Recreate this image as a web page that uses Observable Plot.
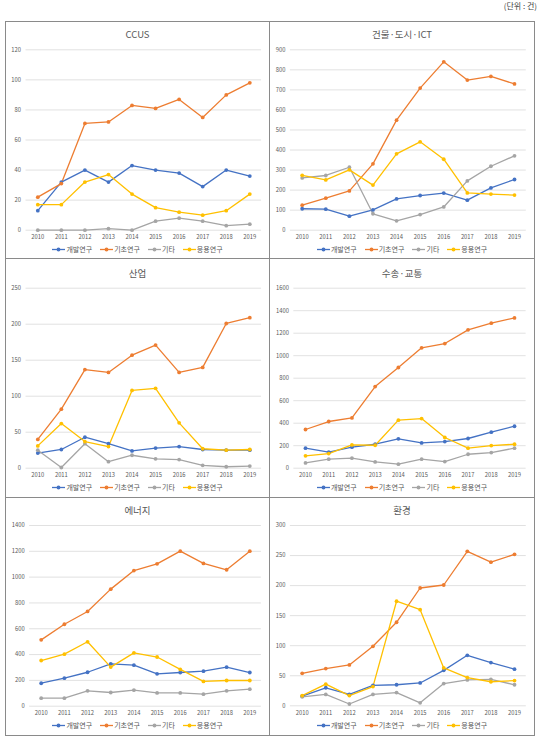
<!DOCTYPE html>
<html><head><meta charset="utf-8">
<script src="https://cdn.jsdelivr.net/npm/d3@7"></script>
<script src="https://cdn.jsdelivr.net/npm/@observablehq/plot@0.6"></script>
<style>
body{margin:0;background:#fff;font-family:"Noto Sans CJK KR","Noto Sans",sans-serif;}
#root{position:relative;width:543px;height:743px;overflow:hidden;background:#fff}
.panel{position:absolute;box-sizing:border-box;border:1px solid #8a8a8a;background:#fff}
.panel svg{position:absolute;left:0;top:0;overflow:visible}
.title{position:absolute;left:0;right:0;text-align:center;font-size:9.5px;color:#595959;line-height:1;white-space:nowrap}
.legend{position:absolute;left:0;right:0;display:flex;justify-content:center;gap:8px;font-size:7px;color:#595959;align-items:center;line-height:1}
.legend span.item{display:flex;align-items:center;gap:1px}
.unit{position:absolute;right:6px;top:2px;font-size:8px;color:#404040;line-height:1}
</style></head>
<body><div id="root"><div class="unit">(단위 : 건)</div></div>
<script>
const years = [2010, 2011, 2012, 2013, 2014, 2015, 2016, 2017, 2018, 2019];
const seriesNames = ["개발연구", "기초연구", "기타", "응용연구"];
const seriesColors = ["#4472C4", "#ED7D31", "#A5A5A5", "#FFC000"];
const panelTitles = ["CCUS", "건물·도시·ICT", "산업", "수송·교통", "에너지", "환경"];
const yMaxima = [120, 900, 250, 1600, 1400, 300];
const yStepSizes = [20, 100, 50, 200, 200, 50];

// CCUS
const ccusDev = [13, 32, 40, 32, 43, 40, 38, 29, 40, 36];
const ccusBasic = [22, 31, 71, 72, 83, 81, 87, 75, 90, 98];
const ccusOther = [0, 0, 0, 1, 0, 6, 8, 6, 3, 4];
const ccusApplied = [17, 17, 32, 37, 24, 15, 12, 10, 13, 24];
// 건물·도시·ICT
const bldgDev = [107, 105, 70, 101, 156, 173, 185, 150, 211, 253];
const bldgBasic = [125, 160, 196, 331, 549, 709, 840, 749, 767, 730];
const bldgOther = [261, 273, 314, 82, 47, 78, 116, 246, 319, 371];
const bldgApplied = [274, 251, 301, 225, 381, 441, 354, 186, 180, 175];
// 산업
const indDev = [21, 26, 43, 34, 24, 28, 30, 26, 25, 25];
const indBasic = [40, 82, 137, 133, 157, 171, 133, 140, 201, 209];
const indOther = [25, 1, 34, 9, 18, 13, 12, 4, 2, 3];
const indApplied = [31, 62, 37, 30, 108, 111, 63, 27, 25, 26];
// 수송·교통
const trDev = [178, 142, 187, 213, 261, 225, 237, 264, 320, 373];
const trBasic = [344, 415, 447, 726, 895, 1070, 1108, 1230, 1289, 1336];
const trOther = [47, 80, 89, 56, 36, 80, 59, 124, 139, 178];
const trApplied = [110, 130, 207, 204, 427, 441, 273, 178, 201, 213];
// 에너지
const enDev = [178, 217, 263, 328, 318, 251, 261, 271, 302, 261];
const enBasic = [514, 635, 734, 907, 1051, 1103, 1201, 1106, 1057, 1201];
const enOther = [62, 62, 119, 106, 124, 103, 103, 93, 119, 132];
const enApplied = [354, 403, 499, 303, 413, 381, 285, 192, 199, 199];
// 환경
const envDev = [16, 30, 19, 34, 35, 38, 59, 84, 72, 61];
const envBasic = [54, 62, 68, 99, 139, 196, 201, 257, 239, 252];
const envOther = [15, 19, 3, 19, 22, 5, 37, 43, 44, 35];
const envApplied = [17, 36, 17, 32, 174, 160, 63, 47, 40, 42];

const panelSeries = [
  [ccusDev, ccusBasic, ccusOther, ccusApplied],
  [bldgDev, bldgBasic, bldgOther, bldgApplied],
  [indDev, indBasic, indOther, indApplied],
  [trDev, trBasic, trOther, trApplied],
  [enDev, enBasic, enOther, enApplied],
  [envDev, envBasic, envOther, envApplied]
];

// layout (page pixels)
const layout = [
  {left: 5, top: 21, w: 265, h: 238, x0: 37.3, x9: 249.3, yTop: 49.3, yZero: 229.7},
  {left: 269, top: 21, w: 266, h: 238, x0: 301.7, x9: 514, yTop: 49.3, yZero: 229.7},
  {left: 5, top: 258, w: 265, h: 240, x0: 37.3, x9: 249.3, yTop: 287.7, yZero: 467.7},
  {left: 269, top: 258, w: 266, h: 240, x0: 305, x9: 514, yTop: 287.7, yZero: 467.7},
  {left: 5, top: 497, w: 265, h: 239, x0: 40.7, x9: 249.3, yTop: 525, yZero: 705.7},
  {left: 269, top: 497, w: 266, h: 239, x0: 301.7, x9: 514, yTop: 525, yZero: 705.3}
];

const root = document.getElementById("root");
const FONT = '"Noto Sans CJK KR","Noto Sans",sans-serif';

panelTitles.forEach((title, i) => {
  const L = layout[i];
  const ox = L.left + 1, oy = L.top + 1;
  const sw = L.w - 2, sh = L.h - 2;
  const band = (L.x9 - L.x0) / 9;
  const gridL = L.x0 - band / 2 - ox;
  const gridR = L.x9 + band / 2 - ox;
  const data = [];
  seriesNames.forEach((s, k) => {
    panelSeries[i][k].forEach((v, j) => data.push({year: years[j], value: v, series: s}));
  });
  const yTicks = d3.range(0, yMaxima[i] + yStepSizes[i] / 2, yStepSizes[i]);
  const plot = Plot.plot({
    width: sw, height: sh,
    marginLeft: gridL, marginRight: sw - gridR,
    marginTop: L.yTop - oy, marginBottom: sh - (L.yZero - oy),
    style: {fontFamily: FONT, background: "transparent", color: "#595959"},
    x: {type: "linear", domain: [2009.5, 2019.5]},
    y: {domain: [0, yMaxima[i]]},
    color: {domain: seriesNames, range: seriesColors},
    marks: [
      Plot.ruleY(yTicks, {stroke: "#d9d9d9", strokeWidth: 0.8}),
      Plot.axisY({ticks: yTicks, tickSize: 0, tickPadding: 5, fontSize: 5.8, fill: "#595959", label: null, tickFormat: d => String(d)}),
      Plot.axisX({ticks: years, tickSize: 0, tickPadding: 5, fontSize: 5.8, fill: "#595959", label: null, tickFormat: d => String(d)}),
      Plot.line(data, {x: "year", y: "value", z: "series", stroke: "series", strokeWidth: 1.3}),
      Plot.dot(data, {x: "year", y: "value", fill: "series", r: 1.9, stroke: "none"})
    ]
  });
  const div = document.createElement("div");
  div.className = "panel";
  div.style.left = L.left + "px";
  div.style.top = L.top + "px";
  div.style.width = L.w + "px";
  div.style.height = L.h + "px";
  div.appendChild(plot);
  const t = document.createElement("div");
  t.className = "title";
  t.textContent = title;
  t.style.top = (L.yTop - oy - 14 - 5) + "px";
  div.appendChild(t);
  const lg = document.createElement("div");
  lg.className = "legend";
  lg.style.top = (L.yZero - oy + 20 - 3.5) + "px";
  seriesNames.forEach((s, k) => {
    const it = document.createElement("span");
    it.className = "item";
    it.innerHTML = `<svg width="13" height="5" style="position:static"><line x1="0" x2="13" y1="2.5" y2="2.5" stroke="${seriesColors[k]}" stroke-width="1.3"/><circle cx="6.5" cy="2.5" r="1.9" fill="${seriesColors[k]}"/></svg><span>${s}</span>`;
    lg.appendChild(it);
  });
  div.appendChild(lg);
  root.appendChild(div);
});
</script>
</body></html>
